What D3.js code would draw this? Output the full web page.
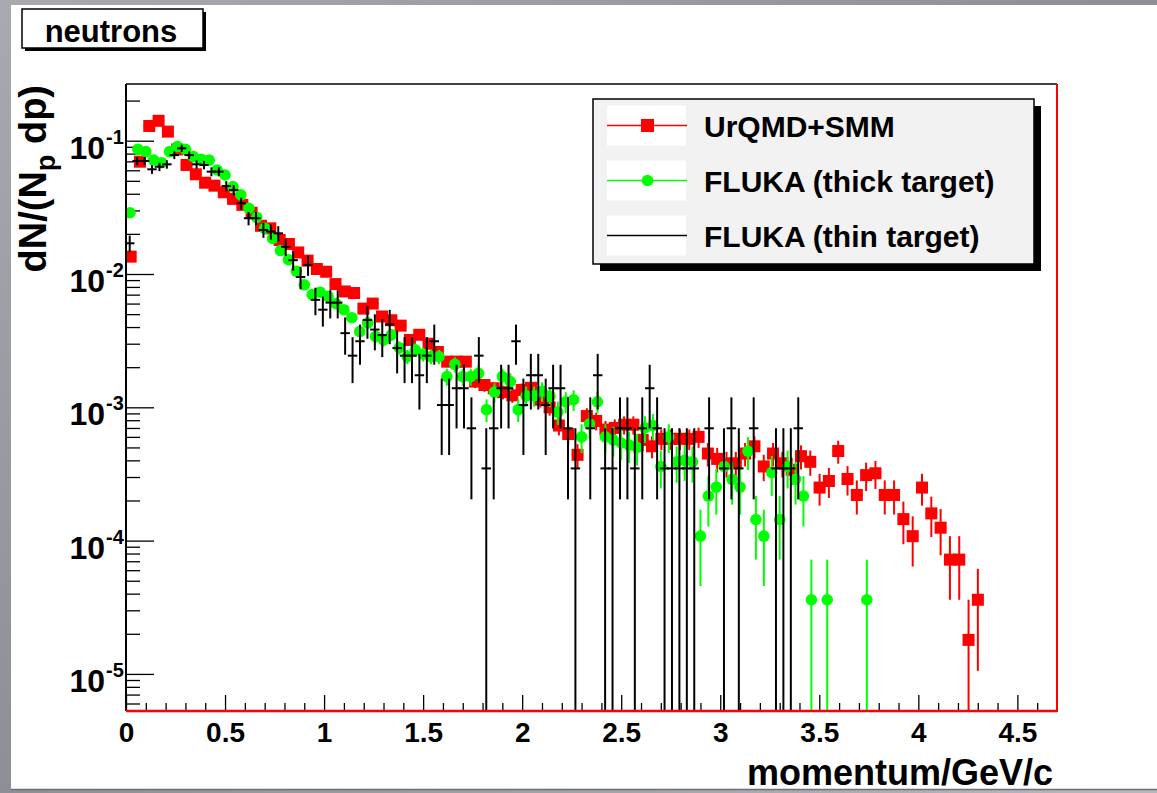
<!DOCTYPE html>
<html><head><meta charset="utf-8">
<script src="https://cdn.jsdelivr.net/npm/d3@7"></script>
<style>
body{margin:0;background:#fff;}
svg{display:block}
text{font-family:"Liberation Sans",Arial,Helvetica,sans-serif;font-weight:bold;fill:#000}
</style>
</head><body>
<svg id="c" width="1157" height="793"></svg>
<script>
// ---------------- data ----------------
const titleText = "neutrons";
const xTitle = "momentum/GeV/c";
const xDomain = [0, 4.7];
const yDomain = [5.27e-6, 0.2663];
const xTickValues = [0, 0.5, 1, 1.5, 2, 2.5, 3, 3.5, 4, 4.5];
const xTickLabels = ["0", "0.5", "1", "1.5", "2", "2.5", "3", "3.5", "4", "4.5"];
const yTickExponents = [-1, -2, -3, -4, -5];
const legendLabels = ["UrQMD+SMM", "FLUKA (thick target)", "FLUKA (thin target)"];

// UrQMD+SMM : bin width 0.047 GeV/c, bins from 0
const urqmdBinWidth = 0.047;
const urqmdEntryWeight = 1.8e-5;
const urqmdValues = [
  0.0135, 0.0696, 0.129, 0.141, 0.117, 0.086, 0.0658, 0.056, 0.0484, 0.046,
  0.041, 0.0366, 0.033, 0.0288, 0.023, 0.022, 0.018, 0.0168, 0.0145, 0.0126,
  0.0109, 0.0104, 0.0084, 0.0074, 0.0072, 0.0055, 0.0060, 0.0048, 0.0045, 0.0041,
  0.0032, 0.0035, 0.0030, 0.0026, 0.0022, 0.0022, 0.0022, 0.00156, 0.00147, 0.00139,
  0.00130, 0.00123, 0.00135, 0.00140, 0.00114, 0.00100, 0.00073, 0.00063, 0.00044, 0.00086,
  0.00079, 0.00068, 0.00070, 0.00074, 0.00074, 0.00057, 0.00051, 0.00058, 0.00058, 0.00058,
  0.00058, 0.00060, 0.00045, 0.00041, 0.00038, 0.00038, 0.00045, 0.00051, 0.00036, 0.00045,
  0.00038, 0.00034, 0.00043, 0.00039, 0.00025, 0.00028, 0.00047, 0.00029, 0.00022, 0.00031,
  0.00032, 0.00022, 0.00022, 0.000145, 0.000108, 0.00025, 0.00016, 0.000125, 0.000072, 0.000072,
  0.000018, 0.000036
];

// FLUKA thick target : bin width 0.04 GeV/c
const thickBinWidth = 0.04;
const thickEntryWeight = 3.6e-5;
const thickValues = [
  0.0288, 0.0861, 0.0828, 0.0716, 0.0684, 0.0828, 0.0902, 0.0861, 0.0759, 0.0725,
  0.0716, 0.0603, 0.0553, 0.0452, 0.0392, 0.0311, 0.0266, 0.0220, 0.0185, 0.0150,
  0.0128, 0.0105, 0.0083, 0.0070, 0.0073, 0.0068, 0.0060, 0.0054, 0.0047, 0.0037,
  0.0043, 0.0034, 0.0032, 0.0035, 0.0028, 0.0024, 0.0027, 0.0025, 0.0024, 0.0024,
  0.0017, 0.0021, 0.0017, 0.0017, 0.0018, 0.00096, 0.0013, 0.0017, 0.00156, 0.00096,
  0.00122, 0.00122, 0.00132, 0.00121, 0.00092, 0.00110, 0.00114, 0.00060, 0.00075, 0.00110,
  0.00060, 0.00057, 0.00054, 0.00052, 0.00050, 0.00070, 0.00073, 0.00036, 0.00060, 0.00039,
  0.00040, 0.00039, 0.000108, 0.000216, 0.000252, 0.00036, 0.000288, 0.000252, 0.000468, 0.000144,
  0.000108, 0.000324, 0.000144, 0.00036, 0.000288, 0.000216, 0.000036, 0, 0.000036, 0,
  0, 0, 0, 0.000036
];

// FLUKA thin target : bin width 0.0375 GeV/c
const thinBinWidth = 0.0375;
const thinEntryWeight = 3.48e-4;
const thinValues = [
  0.0170, 0.0705, 0.0705, 0.061, 0.0638, 0.0665, 0.078, 0.0877, 0.078, 0.0665,
  0.0658, 0.0586, 0.0586, 0.0457, 0.0427, 0.0339, 0.0262, 0.0262, 0.0214, 0.0208,
  0.0202, 0.016, 0.0127, 0.0095, 0.0117, 0.0064, 0.0054, 0.0061, 0.0061, 0.0036,
  0.00244, 0.00313, 0.00452, 0.00383, 0.00348, 0.00418, 0.00278, 0.00244, 0.00244, 0.00174,
  0.00244, 0.00313, 0.00104, 0.00104, 0.00139, 0.00139, 0.000696, 0.00244, 0.000348, 0.000696,
  0.00139, 0.00139, 0.00313, 0.00104, 0.00174, 0.00174, 0.00104, 0.00139, 0.00139, 0.000696,
  0.000348, 0, 0.000696, 0.00174, 0.000348, 0.000348, 0.000696, 0.000696, 0.000348, 0.000696,
  0.00139, 0.000696, 0.000348, 0.000348, 0.000348, 0.000348, 0.000348, 0, 0.000696, 0,
  0.000348, 0.000696, 0.000348, 0, 0.000696, 0, 0, 0.000348, 0.000348, 0.000348,
  0.000696
];

// ---------------- drawing ----------------
const svg = d3.select("#c");
const W = 1157, H = 793;
const frame = {left: 126, right: 1057, top: 84, bottom: 711};

const defs = svg.append("defs");
const grad = defs.append("linearGradient").attr("id", "bg").attr("x1", 0).attr("y1", 0).attr("x2", 1).attr("y2", 1);
grad.append("stop").attr("offset", "0%").attr("stop-color", "#a9a9b0");
grad.append("stop").attr("offset", "50%").attr("stop-color", "#8e8e96");
grad.append("stop").attr("offset", "100%").attr("stop-color", "#b8b8be");
svg.append("rect").attr("width", W).attr("height", H).attr("fill", "url(#bg)");
svg.append("rect").attr("x", 11).attr("y", 5).attr("width", W - 11).attr("height", 784).attr("fill", "#fff");
svg.append("line").attr("x1", 11).attr("x2", W).attr("y1", 789.5).attr("y2", 789.5).attr("stroke", "#6e6e74").attr("stroke-width", 1.5);

defs.append("clipPath").attr("id", "plotclip").append("rect")
  .attr("x", frame.left).attr("y", frame.top)
  .attr("width", frame.right - frame.left).attr("height", frame.bottom - frame.top);

const x = d3.scaleLinear().domain(xDomain).range([frame.left, frame.right]);
const y = d3.scaleLog().domain(yDomain).range([frame.bottom, frame.top]);

// title box
svg.append("rect").attr("x", 25).attr("y", 12).attr("width", 181).attr("height", 39).attr("fill", "#000");
svg.append("rect").attr("x", 22).attr("y", 9).attr("width", 181).attr("height", 39)
  .attr("fill", "#fff").attr("stroke", "#000").attr("stroke-width", 1.5);
svg.append("text").attr("x", 111).attr("y", 42).attr("text-anchor", "middle")
  .style("font-size", "31px").text(titleText);

// axes ticks (inside the frame, ROOT style)
const minorX = d3.range(0, 47).map(d => d / 10).filter(v => !xTickValues.includes(v));
svg.append("g").attr("transform", `translate(0,${frame.bottom})`)
  .call(d3.axisBottom(x).tickValues(minorX).tickSize(-8).tickFormat(""))
  .call(g => g.select(".domain").remove())
  .call(g => g.selectAll("line").attr("stroke", "#000").attr("stroke-width", 1.3));
const xAxis = svg.append("g").attr("transform", `translate(0,${frame.bottom})`)
  .call(d3.axisBottom(x).tickValues(xTickValues).tickSize(-16).tickPadding(11)
    .tickFormat((d, i) => xTickLabels[i]))
  .call(g => g.select(".domain").remove())
  .call(g => g.selectAll("line").attr("stroke", "#000").attr("stroke-width", 1.3));
xAxis.selectAll("text").attr("font-size", null).style("font-size", "28px")
  .style("font-family", "'Liberation Sans',Arial,sans-serif").style("font-weight", "bold").attr("fill", "#000");

const minorY = [];
for (let e = -6; e <= -1; e++) for (let m = 2; m <= 9; m++) {
  const v = m * Math.pow(10, e);
  if (v >= yDomain[0] && v <= yDomain[1]) minorY.push(v);
}
const majorY = yTickExponents.map(e => Math.pow(10, e));
svg.append("g").attr("transform", `translate(${frame.left},0)`)
  .call(d3.axisLeft(y).tickValues(minorY).tickSize(-14).tickFormat(""))
  .call(g => g.select(".domain").remove())
  .call(g => g.selectAll("line").attr("stroke", "#000").attr("stroke-width", 1.3));
svg.append("g").attr("transform", `translate(${frame.left},0)`)
  .call(d3.axisLeft(y).tickValues(majorY).tickSize(-28).tickFormat(""))
  .call(g => g.select(".domain").remove())
  .call(g => g.selectAll("line").attr("stroke", "#000").attr("stroke-width", 1.3));

// y tick labels 10^n
const yl = svg.append("g");
yTickExponents.forEach(e => {
  const yy = y(Math.pow(10, e));
  yl.append("text").attr("x", 105).attr("y", yy + 18).attr("text-anchor", "end")
    .style("font-size", "32px").text("10");
  yl.append("text").attr("x", 106).attr("y", yy + 3).attr("text-anchor", "start")
    .style("font-size", "20px").text(String(e));
});

// axis titles
svg.append("text").attr("x", 1053).attr("y", 785).attr("text-anchor", "end")
  .style("font-size", "36px").text(xTitle);
const yt = svg.append("text").attr("transform", "translate(46,85) rotate(-90)")
  .attr("text-anchor", "end").style("font-size", "38px");
yt.append("tspan").text("dN/(N");
yt.append("tspan").attr("dy", 9).style("font-size", "27px").text("p");
yt.append("tspan").attr("dy", -9).text(" dp)");

// series
const plot = svg.append("g").attr("clip-path", "url(#plotclip)");
function drawSeries(values, binWidth, weight, color, marker) {
  const pts = values.map((v, i) => ({v, i})).filter(d => d.v > 0);
  const g = plot.append("g");
  pts.forEach(d => {
    const cx = x((d.i + 0.5) * binWidth);
    const err = Math.sqrt(d.v * weight);
    const lo = d.v - err;
    const yTop = Math.max(y(d.v + err), frame.top);
    const yBot = lo > 0 ? Math.min(y(lo), frame.bottom + 2) : frame.bottom + 2;
    g.append("line").attr("x1", cx).attr("x2", cx).attr("y1", yTop).attr("y2", yBot)
      .attr("stroke", color).attr("stroke-width", 2);
    g.append("line").attr("x1", x(d.i * binWidth)).attr("x2", x((d.i + 1) * binWidth))
      .attr("y1", y(d.v)).attr("y2", y(d.v)).attr("stroke", color).attr("stroke-width", 2)
      .attr("stroke-linecap", "square");
  });
  pts.forEach(d => {
    const cx = x((d.i + 0.5) * binWidth), cy = y(d.v);
    if (marker === "square") {
      g.append("rect").attr("x", cx - 6).attr("y", cy - 6).attr("width", 12).attr("height", 12).attr("fill", color);
    } else if (marker === "circle") {
      g.append("circle").attr("cx", cx).attr("cy", cy).attr("r", 5.8).attr("fill", color);
    }
  });
}
drawSeries(urqmdValues, urqmdBinWidth, urqmdEntryWeight, "#ff0000", "square");
drawSeries(thickValues, thickBinWidth, thickEntryWeight, "#00ff00", "circle");
drawSeries(thinValues, thinBinWidth, thinEntryWeight, "#000000", "none");

// frame
svg.append("line").attr("x1", frame.left).attr("x2", frame.right).attr("y1", frame.top).attr("y2", frame.top)
  .attr("stroke", "#000").attr("stroke-width", 1.5);
svg.append("line").attr("x1", frame.left).attr("x2", frame.left).attr("y1", frame.top).attr("y2", frame.bottom)
  .attr("stroke", "#000").attr("stroke-width", 2);
svg.append("line").attr("x1", frame.right).attr("x2", frame.right).attr("y1", frame.top).attr("y2", frame.bottom + 1)
  .attr("stroke", "#ff0000").attr("stroke-width", 2);
svg.append("line").attr("x1", frame.left).attr("x2", frame.right).attr("y1", frame.bottom).attr("y2", frame.bottom)
  .attr("stroke", "#ff0000").attr("stroke-width", 2.5);

// legend
const lg = {x: 593, y: 99, w: 441, h: 165};
svg.append("rect").attr("x", lg.x + 7).attr("y", lg.y + 7).attr("width", lg.w).attr("height", lg.h).attr("fill", "#000");
svg.append("rect").attr("x", lg.x).attr("y", lg.y).attr("width", lg.w).attr("height", lg.h)
  .attr("fill", "#f2f2f2").attr("stroke", "#000").attr("stroke-width", 1.5);
const legendStyles = [
  {color: "#ff0000", marker: "square"},
  {color: "#00ff00", marker: "circle"},
  {color: "#000000", marker: "none"}
];
legendLabels.forEach((lab, i) => {
  const cy = 125.5 + i * 55;
  const st = legendStyles[i];
  svg.append("rect").attr("x", 607).attr("y", cy - 20).attr("width", 79).attr("height", 40).attr("fill", "#fff");
  svg.append("line").attr("x1", 607).attr("x2", 687).attr("y1", cy).attr("y2", cy)
    .attr("stroke", st.color).attr("stroke-width", 1.5);
  if (st.marker === "square")
    svg.append("rect").attr("x", 641).attr("y", cy - 6.5).attr("width", 13).attr("height", 13).attr("fill", st.color);
  if (st.marker === "circle")
    svg.append("circle").attr("cx", 647.5).attr("cy", cy).attr("r", 5.8).attr("fill", st.color);
  svg.append("text").attr("x", 704).attr("y", cy + 11).style("font-size", "30px").text(lab);
});
</script>
</body></html>
